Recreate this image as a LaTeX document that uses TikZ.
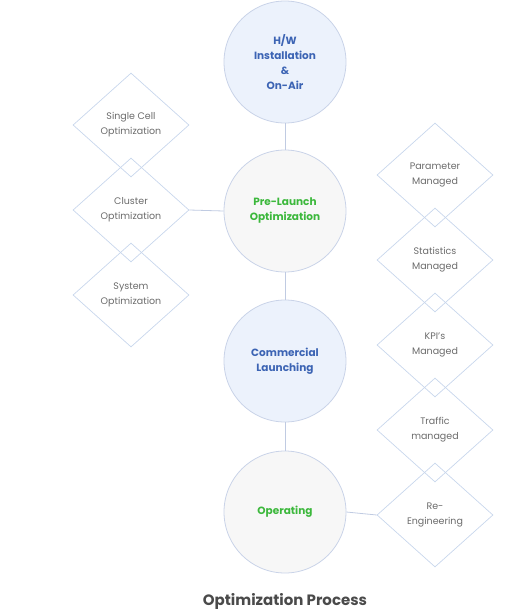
\documentclass[tikz,border=0pt]{standalone}
\usepackage{fontspec}
\setmainfont{Poppins}
\usetikzlibrary{shapes.geometric}
\definecolor{cborder}{HTML}{C9D3E8}
\definecolor{bluefill}{HTML}{ECF2FC}
\definecolor{greyfill}{HTML}{F7F7F7}
\definecolor{bluetext}{HTML}{3C64B4}
\definecolor{greentext}{HTML}{3CB83C}
\definecolor{dborder}{HTML}{C8D6EC}
\definecolor{dtext}{HTML}{6B6B6B}
\definecolor{linkcol}{HTML}{C0CBE2}
\definecolor{titlecol}{HTML}{4A4A4A}
\tikzset{
  stagecirc/.style={circle, draw=cborder, line width=0.8pt, minimum size=122pt, inner sep=0pt, align=center, font=\fontsize{10.5}{15}\selectfont\bfseries},
  bluestage/.style={stagecirc, fill=bluefill, text=bluetext},
  greystage/.style={stagecirc, fill=greyfill, text=greentext},
  taskbox/.style={diamond, draw=dborder, line width=0.7pt, minimum width=116pt, minimum height=104pt, inner sep=0pt, aspect=1.115, align=center, text=dtext, font=\fontsize{9.5}{15}\selectfont},
  link/.style={draw=linkcol, line width=0.8pt}
}
\begin{document}
\begin{tikzpicture}[x=1pt,y=-1pt]
\useasboundingbox (0,0) rectangle (520,611);
% left diamonds
\node[taskbox] (single) at (131,125) {Single Cell\\Optimization};
\node[taskbox] (cluster) at (131,210) {Cluster\\Optimization};
\node[taskbox] (system) at (131,295) {System\\Optimization};
% right diamonds
\node[taskbox] (param) at (435,175) {Parameter\\Managed};
\node[taskbox] (stats) at (435,260) {Statistics\\Managed};
\node[taskbox] (kpi) at (435,345) {KPI's\\Managed};
\node[taskbox] (traffic) at (435,430) {Traffic\\managed};
\node[taskbox] (reeng) at (435,515) {Re-\\Engineering};
% circles
\node[bluestage] (hw) at (285,62) {H/W\\Installation\\\&\\On-Air};
\node[greystage] (pre) at (285,211) {Pre-Launch\\Optimization};
\node[bluestage] (comm) at (285,361) {Commercial\\Launching};
\node[greystage] (oper) at (285,512) {Operating};
% links
\draw[link] (hw) -- (pre);
\draw[link] (pre) -- (comm);
\draw[link] (comm) -- (oper);
\draw[link] (cluster.east) -- (pre.west);
\draw[link] (oper.east) -- (reeng.west);
% title
\node[text=titlecol, font=\fontsize{15}{18}\selectfont\bfseries] (title) at (285,601) {Optimization Process};
\end{tikzpicture}
\end{document}
